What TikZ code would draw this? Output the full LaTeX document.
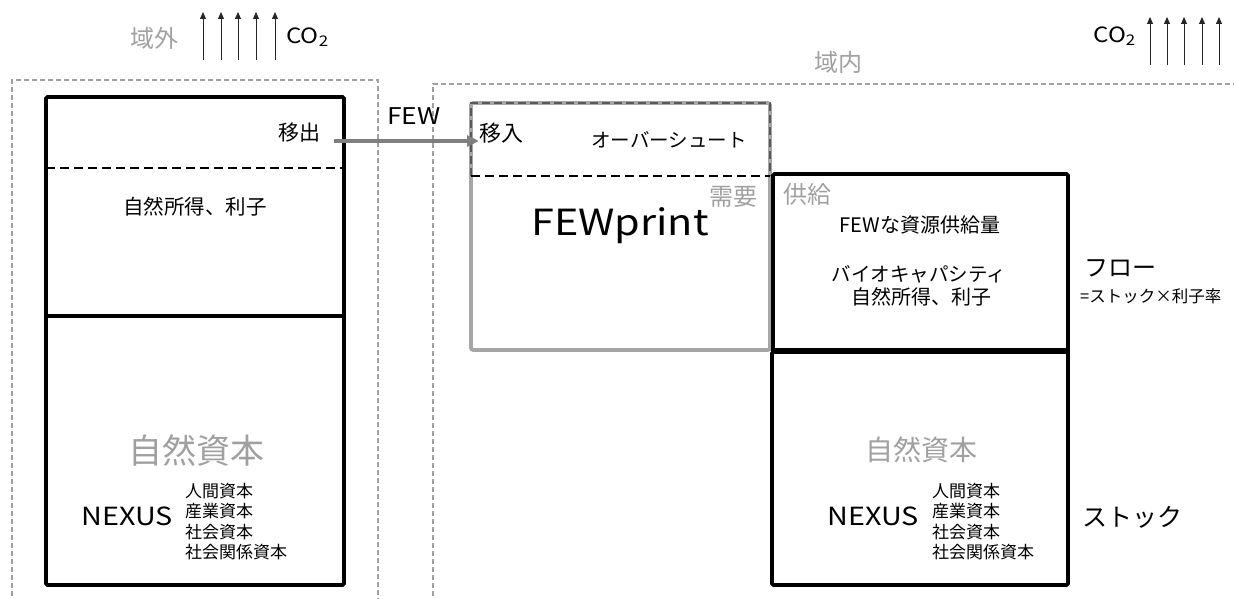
\documentclass[tikz,border=0pt]{standalone}
\usepackage{fontspec}
\setmainfont{Noto Sans CJK JP}
\newfontfamily\lat{Noto Sans CJK JP}[FakeStretch=1.15]
\usetikzlibrary{arrows.meta}
\definecolor{lgray}{HTML}{A0A0A0}
\definecolor{agray}{HTML}{7F7F7F}
\definecolor{bgray}{HTML}{A6A6A6}
\definecolor{dgray}{HTML}{595959}
\tikzset{
  txt/.style={inner sep=0pt, font=\fontsize{#1}{#1}\selectfont},
  ltxt/.style={inner sep=0pt, font=\fontsize{#1}{#1}\selectfont\lat},
  gtxt/.style={txt=#1, text=lgray},
  regionline/.style={draw=lgray, line width=1.1pt, dash pattern=on 5pt off 3pt},
  thickbox/.style={draw=black, line width=3.8pt, rounded corners=1.5pt},
  divdash/.style={line width=2.8pt, dash pattern=on 9pt off 5pt},
  co2arrow/.style={-{Triangle[length=7pt,width=6pt]}, line width=1pt, draw=black!85},
}
\begin{document}
\begin{tikzpicture}[x=1pt,y=-1pt]
\useasboundingbox (0,0) rectangle (1234,599);
\clip (0,0) rectangle (1234,599);
% regions
\draw[regionline] (12,620) -- (12,80) -- (378,80) -- (378,620);
\draw[regionline] (433,620) -- (433,84) -- (1250,84);
% left box
\draw[thickbox] (46,97) rectangle (344,585);
\draw[line width=3.8pt] (46,316) -- (344,316);
\draw[divdash] (46,168) -- (344,168);
% FEWprint box
\draw[draw=bgray, line width=3.6pt, rounded corners=2pt] (471,103) rectangle (770,350);
\draw[draw=dgray, line width=1.4pt, dash pattern=on 8pt off 4pt] (471,176) -- (471,103) -- (770,103) -- (770,176);
\draw[divdash] (471,176) -- (770,176);
% supply box and stock box
\draw[thickbox] (773,174) rectangle (1068,350);
\draw[line width=5.5pt] (771,351) -- (1070,351);
\draw[thickbox] (772,352) rectangle (1068,585);
% texts left
\node[txt=21, anchor=east] (outL) at (321,133) {移出};
\node[ltxt=23] (few) at (414,116) {FEW};
\node[txt=20.5] (incL) at (195,207) {自然所得、利子};
\node[gtxt=34] (ncL) at (196,450) {自然資本};
\node[ltxt=25] (nexL) at (127,516) {NEXUS};
\node[anchor=north west, align=left, inner sep=0pt, font=\fontsize{17}{20.5}\selectfont] (capL) at (185,483) {人間資本\\産業資本\\社会資本\\社会関係資本};
% FEWprint texts
\node[txt=22, anchor=west] (inR) at (479,133) {移入};
\node[txt=19.5] (over) at (669,140) {オーバーシュート};
\node[gtxt=24] (dem) at (733,197) {需要};
\node[ltxt=36] (fp) at (620,226) {FEWprint};
% supply texts
\node[gtxt=24] (sup) at (807,194) {供給};
\node[txt=20] (fewsup) at (920,225) {FEWな資源供給量};
\node[txt=19.5] (bio) at (919,274) {バイオキャパシティ};
\node[txt=20] (incR) at (921,297) {自然所得、利子};
\node[txt=24, anchor=west] (flow) at (1084,268) {フロー};
\node[txt=16.5, anchor=west] (rate) at (1080,296) {=ストック×利子率};
% stock texts
\node[gtxt=28] (ncR) at (921,450) {自然資本};
\node[ltxt=25] (nexR) at (873,516) {NEXUS};
\node[anchor=north west, align=left, inner sep=0pt, font=\fontsize{17}{20.5}\selectfont] (capR) at (932,483) {人間資本\\産業資本\\社会資本\\社会関係資本};
\node[txt=25, anchor=west] (stock) at (1082,517) {ストック};
% arrow FEW
\draw[draw=agray, line width=3.5pt, -{Triangle[length=12pt,width=11pt]}] (outL.east) ++(13,8) coordinate (fs) -- (inR.west |- fs);
% CO2 left
\node[gtxt=24] (outside) at (154,38) {域外};
\node[ltxt=21, anchor=west] (co2L) at (286,37) {CO\textsubscript{2}};
\foreach \x [count=\i] in {203,221,238,256,275}{
  \coordinate (lb\i) at (\x,60); \coordinate (lt\i) at (\x,12);
  \draw[co2arrow] (lb\i) -- (lt\i);
}
% CO2 right
\node[gtxt=24] (inside) at (838,62) {域内};
\node[ltxt=21, anchor=east] (co2R) at (1136,36) {CO\textsubscript{2}};
\foreach \x [count=\i] in {1150,1167,1184,1202,1219}{
  \coordinate (rb\i) at (\x,65); \coordinate (rt\i) at (\x,17);
  \draw[co2arrow] (rb\i) -- (rt\i);
}
\end{tikzpicture}
\end{document}
